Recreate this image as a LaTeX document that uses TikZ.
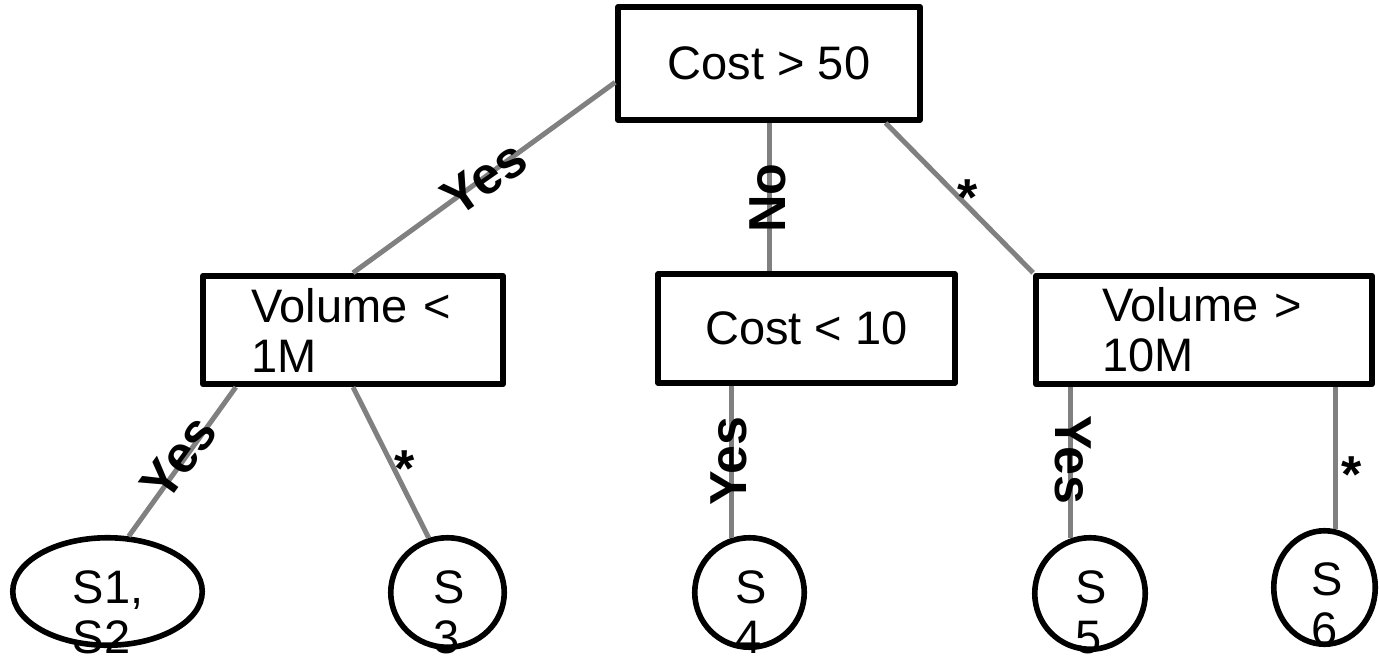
\documentclass[tikz,border=0pt]{standalone}
\usepackage{fontspec}
\setmainfont{Liberation Sans}
\usetikzlibrary{shapes.geometric}
\definecolor{edgegray}{HTML}{808080}
\begin{document}
\begin{tikzpicture}[x=0.5pt, y=-0.5pt,
  every node/.style={font=\fontsize{23.5pt}{25pt}\selectfont},
  testbox/.style={draw=black, line width=2.9pt, fill=white, rectangle,
                  inner sep=0pt, line join=round},
  leaf/.style={draw=black, line width=2.8pt, fill=white, ellipse, inner sep=0pt},
  leaftext/.style={align=left, anchor=base, inner sep=0pt},
  branch/.style={draw=edgegray, line width=2.5pt},
  lbl/.style={font=\fontsize{26pt}{28pt}\selectfont\bfseries, inner sep=0pt}]

\clip (0,0) rectangle (1379,657);

% decision tests
\node[testbox, minimum width=151pt, minimum height=56.5pt] (root) at (769,63.5) {Cost > 50};
\node[testbox, minimum width=150pt, minimum height=54.25pt, text width=102pt, align=left]
  (v1) at (353,330) {Volume <\\1M};
\node[testbox, minimum width=148.5pt, minimum height=54.25pt] (c10) at (806.5,328.5) {Cost < 10};
\node[testbox, minimum width=168pt, minimum height=54.25pt, text width=102pt, align=left]
  (v10) at (1204,330) {Volume >\\10M};

% outcome leaves
\node[leaf, minimum width=94.75pt, minimum height=53.75pt] (e12) at (107.5,591.5) {};
\node[leaf, minimum width=56.75pt, minimum height=54.75pt] (s3) at (447.5,592.5) {};
\node[leaf, minimum width=54.75pt, minimum height=54.75pt] (s4) at (749.5,592.5) {};
\node[leaf, minimum width=55.25pt, minimum height=55.75pt] (s5) at (1090,593.5) {};
\node[leaf, minimum width=50.75pt, minimum height=56.75pt] (s6) at (1324.5,587.5) {};

% branches
\draw[branch] (root.187) -- (v1.north);
\draw[branch] (root.south) -- (root.south |- c10.north);
\draw[branch] (root.-27) -- (v10.north west);
\draw[branch] (v1.206) -- (e12.69);
\draw[branch] (v1.south) -- (s3.109);
\draw[branch] (s4.108 |- c10.south) -- (s4.108);
\draw[branch] (s5.109 |- v10.south) -- (s5.109);
\draw[branch] (s6.79 |- v10.south) -- (s6.79);

% leaf contents (base anchor sits on the last line)
\node[leaftext] (t12) at (108,653) {S1,\\S2};
\node[leaftext] (t3) at (449,653) {S\\3};
\node[leaftext] (t4) at (751,653) {S\\4};
\node[leaftext] (t5) at (1091,653) {S\\5};
\node[leaftext] (t6) at (1327,645) {S\\6};

% branch labels
\node[lbl, rotate=35] (ly1) at (484,178) {Yes};
\node[lbl, rotate=90] (ln) at (768,198) {No};
\node[lbl, anchor=base] (ls1) at (968,216) {*};
\node[lbl, rotate=54] (ly2) at (179,458) {Yes};
\node[lbl, anchor=base] (ls2) at (405,486) {*};
\node[lbl, rotate=90] (ly3) at (729,461) {Yes};
\node[lbl, rotate=-90] (ly4) at (1073,460) {Yes};
\node[lbl, anchor=base] (ls3) at (1352,492) {*};
\end{tikzpicture}
\end{document}
